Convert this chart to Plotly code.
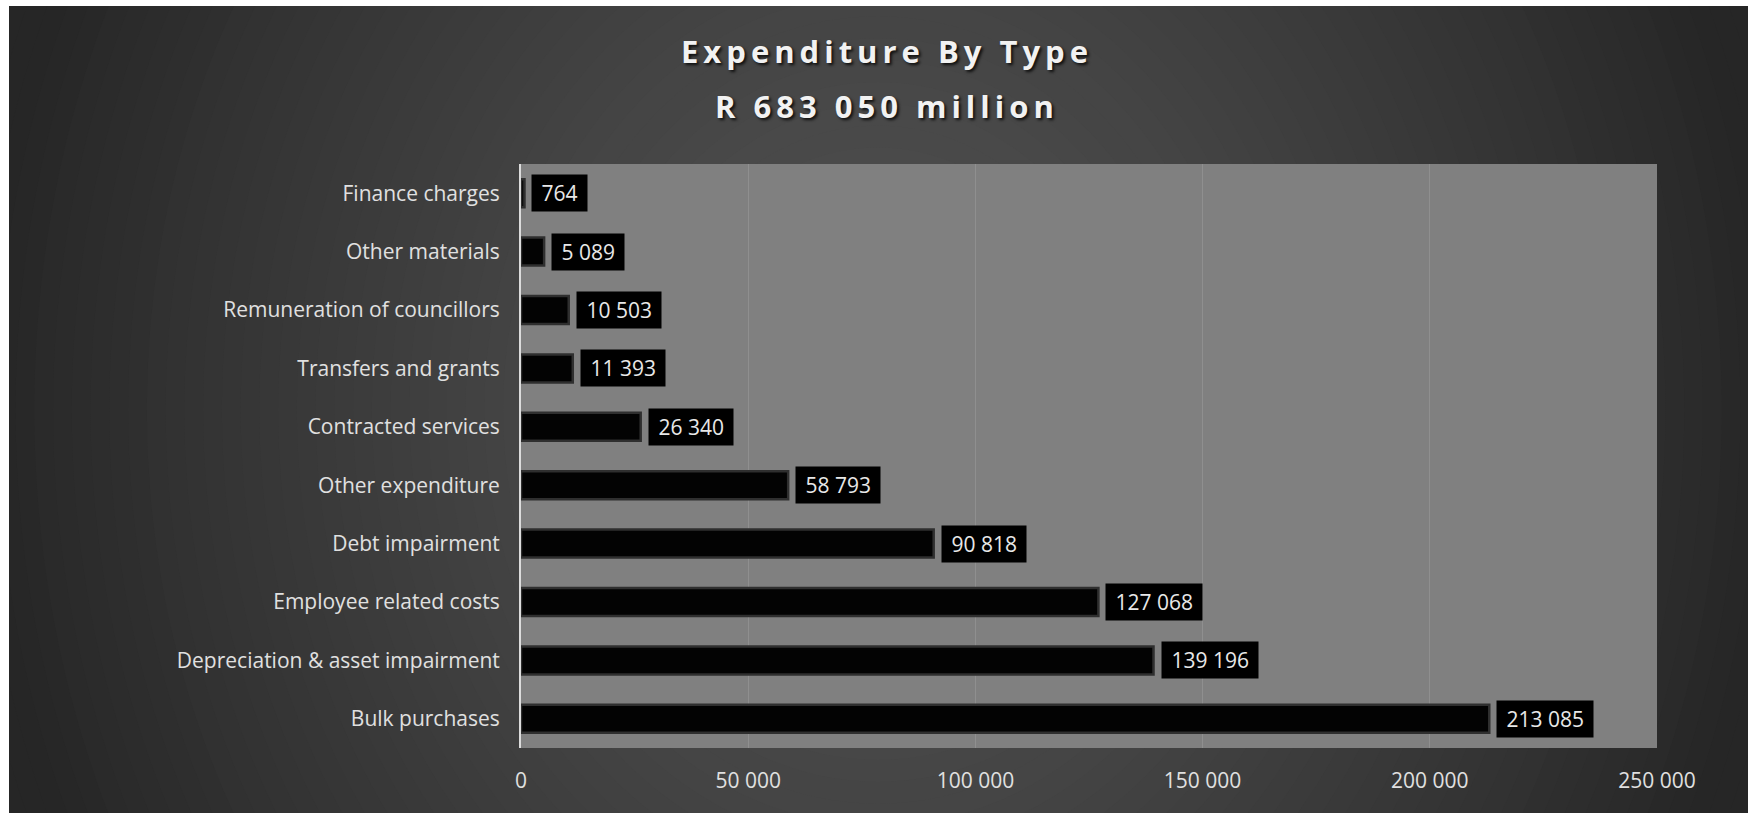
import plotly.graph_objects as go

# ---- data (bottom to top) ----
categories = [
    "Bulk purchases",
    "Depreciation & asset impairment",
    "Employee related costs",
    "Debt impairment",
    "Other expenditure",
    "Contracted services",
    "Transfers and grants",
    "Remuneration of councillors",
    "Other materials",
    "Finance charges",
]
values = [213085, 139196, 127068, 90818, 58793, 26340, 11393, 10503, 5089, 764]
title_line1 = "Expenditure By Type"
title_line2 = "R 683 050 million"
x_ticks = [0, 50000, 100000, 150000, 200000, 250000]

# ---- layout geometry (pixels) ----
W, H = 1748, 813
L, R, T, B = 521, 1657, 164, 748
PW, PH = R - L, B - T
FONT = "Open Sans"


def px(p):
    return (p - L) / PW


def py(p):
    return (B - p) / PH


def fmt(v):
    return f"{v:,}".replace(",", " ")


fig = go.Figure()
fig.add_trace(go.Bar(
    x=values, y=categories, orientation="h",
    marker=dict(color="#030303", line=dict(color="#2f2f2f", width=2.5)),
    hoverinfo="skip", showlegend=False,
))

shapes = []
# radial-ish background gradient
cx, cy = 878, 410
rx, ry = 900, 1050
N = 60
for k in range(N):
    t = 1.25 * (1 - k / N)
    g = int(round(0x50 - (0x50 - 0x26) * min(1.0, t) ** 1.4))
    col = f"rgb({g},{g},{g})"
    shapes.append(dict(
        type="circle", xref="paper", yref="paper", layer="below",
        x0=px(cx - rx * t), x1=px(cx + rx * t),
        y0=py(cy + ry * t), y1=py(cy - ry * t),
        fillcolor=col, line=dict(width=0),
    ))
# white borders (top and left)
shapes.append(dict(type="rect", xref="paper", yref="paper", layer="below",
                   x0=px(-5), x1=px(9), y0=py(H + 5), y1=py(-5),
                   fillcolor="white", line=dict(width=0)))
shapes.append(dict(type="rect", xref="paper", yref="paper", layer="below",
                   x0=px(-5), x1=px(W + 5), y0=py(6), y1=py(-5),
                   fillcolor="white", line=dict(width=0)))
# plot area
shapes.append(dict(type="rect", xref="paper", yref="paper", layer="below",
                   x0=0, x1=1, y0=0, y1=1,
                   fillcolor="#808080", line=dict(width=0)))

annotations = []
for c, v in zip(categories, values):
    annotations.append(dict(
        x=v, y=c, xref="x", yref="y", xanchor="left", yanchor="middle",
        xshift=7, showarrow=False,
        text="\u00a0" + fmt(v) + "\u00a0",
        font=dict(family=FONT, size=21, color="#e8e8e8"),
        bgcolor="#000000", borderpad=4,
    ))

title_style = "letter-spacing:5px"
title_font = dict(family=FONT, size=31, color="#f2f2f2", weight="bold",
                  shadow="2px 2px 3px rgba(0,0,0,0.8)")
annotations.append(dict(
    x=px(887), y=py(51), xref="paper", yref="paper",
    text=f'<span style="{title_style}">{title_line1}</span>',
    showarrow=False, xanchor="center", yanchor="middle", font=title_font,
))
annotations.append(dict(
    x=px(887), y=py(106), xref="paper", yref="paper",
    text=f'<span style="{title_style}">{title_line2}</span>',
    showarrow=False, xanchor="center", yanchor="middle", font=title_font,
))

fig.update_layout(
    width=W, height=H,
    margin=dict(l=L, r=W - R, t=T, b=H - B, pad=0),
    paper_bgcolor="#262626", plot_bgcolor="#808080",
    separators=". ",
    bargap=0.52,
    shapes=shapes,
    annotations=annotations,
    xaxis=dict(
        range=[0, 250000], tickvals=x_ticks, tickformat=",d",
        showgrid=True, gridcolor="#8f8f8f", gridwidth=1,
        zeroline=False, showline=False, ticks="",
        tickfont=dict(family=FONT, size=21, color="#e0e0e0"),
        ticklabelstandoff=18, fixedrange=True,
    ),
    yaxis=dict(
        categoryorder="array", categoryarray=categories,
        showgrid=False, zeroline=False,
        showline=True, linecolor="#dcdcdc", linewidth=2,
        ticks="", tickfont=dict(family=FONT, size=21, color="#e0e0e0"),
        ticklabelstandoff=15, fixedrange=True,
    ),
    showlegend=False,
)

fig.write_html("out.html")
